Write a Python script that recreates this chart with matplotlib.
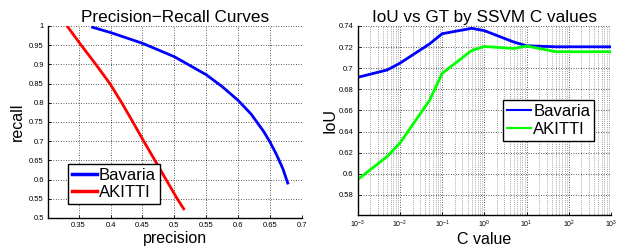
import matplotlib
matplotlib.use('Agg')
import matplotlib.pyplot as plt
import numpy as np

plt.rcParams['font.family'] = ['Liberation Sans', 'DejaVu Sans']

# precision-recall curves
bav_prec = [0.372, 0.40, 0.45, 0.50, 0.55, 0.575, 0.60, 0.62, 0.64, 0.65, 0.66, 0.67, 0.6775]
bav_rec = [0.9966, 0.983, 0.955, 0.92, 0.873, 0.842, 0.806, 0.771, 0.725, 0.697, 0.665, 0.628, 0.591]
ak_prec = [0.332, 0.343, 0.354, 0.377, 0.399, 0.4175, 0.435, 0.452, 0.4695, 0.487, 0.5045, 0.5145]
ak_rec = [1.0, 0.975, 0.95, 0.9, 0.85, 0.8, 0.75, 0.7, 0.65, 0.6, 0.55, 0.524]

# IoU vs C
c_vals = [0.001, 0.005, 0.01, 0.05, 0.1, 0.5, 1, 5, 10, 50, 100, 500, 1000]
bav_iou = [0.6914, 0.6984, 0.7048, 0.723, 0.7327, 0.7378, 0.7356, 0.7248, 0.7213,
           0.7203, 0.7203, 0.7203, 0.7203]
ak_iou = [0.5946, 0.6165, 0.6292, 0.6695, 0.6952, 0.7168, 0.7206, 0.7187, 0.721,
          0.7156, 0.7156, 0.7156, 0.7156]

fig = plt.figure(figsize=(6.19, 2.5), dpi=100)
ax1 = fig.add_axes([0.0775, 0.128, 0.4105, 0.768])
ax2 = fig.add_axes([0.578, 0.14, 0.409, 0.756])

grid_kw = dict(linestyle=(0, (1, 2)), color='#222222', lw=0.6)

def style(ax):
    for s in ['top', 'right']:
        ax.spines[s].set_visible(False)
    ax.spines['left'].set_linewidth(1.0)
    ax.spines['bottom'].set_linewidth(1.0)
    ax.tick_params(direction='in', length=2, width=0.6, labelsize=5.5, pad=3)
    ax.tick_params(which='minor', direction='in', length=1, width=0.4)

def legend(ax, anchor, lw):
    leg = ax.legend(loc='upper left', bbox_to_anchor=anchor, fontsize=12,
                    frameon=True, fancybox=False, edgecolor='k',
                    handlelength=1.45, handletextpad=0.12, borderpad=0.25,
                    labelspacing=0.15, borderaxespad=0, framealpha=1)
    leg.get_frame().set_linewidth(1.0)
    for h in leg.get_lines():
        h.set_linewidth(lw)

ax1.plot(bav_prec, bav_rec, color='#0000ff', lw=2, label='Bavaria')
ax1.plot(ak_prec, ak_rec, color='#ff0000', lw=2, label='AKITTI')
ax1.set_xlim(0.302, 0.7)
ax1.set_ylim(0.5, 1.0)
ax1.set_xticks(np.arange(0.35, 0.701, 0.05))
ax1.set_xticklabels(['0.35', '0.4', '0.45', '0.5', '0.55', '0.6', '0.65', '0.7'])
ax1.set_yticks(np.arange(0.5, 1.001, 0.05))
ax1.set_yticklabels(['0.5', '0.55', '0.6', '0.65', '0.7', '0.75', '0.8', '0.85', '0.9', '0.95', '1'])
ax1.grid(True, **grid_kw)
style(ax1)
ax1.set_title('Precision\u2212Recall Curves', fontsize=12.3, pad=3)
ax1.set_xlabel('precision', fontsize=11.5, labelpad=1)
ax1.set_ylabel('recall', fontsize=11.5, labelpad=3)
legend(ax1, (0.08, 0.283), 2.5)

ax2.semilogx(c_vals, bav_iou, color='#0000ff', lw=2, label='Bavaria')
ax2.semilogx(c_vals, ak_iou, color='#00ff00', lw=2, label='AKITTI')
ax2.set_xlim(1e-3, 1e3)
ax2.set_ylim(0.561, 0.74)
ax2.set_yticks(np.arange(0.58, 0.7401, 0.02))
ax2.set_yticklabels(['0.58', '0.6', '0.62', '0.64', '0.66', '0.68', '0.7', '0.72', '0.74'])
ax2.set_xticks([1e-3, 1e-2, 1e-1, 1e0, 1e1, 1e2, 1e3])
ax2.grid(True, which='major', **grid_kw)
ax2.grid(True, which='minor', axis='x', linestyle=(0, (1, 2)), color='#555555', lw=0.5)
style(ax2)
ax2.tick_params(axis='x', labelsize=5)
ax2.set_title('IoU vs GT by SSVM C values', fontsize=12.3, pad=3)
ax2.set_xlabel('C value', fontsize=11.5, labelpad=1)
ax2.set_ylabel('IoU', fontsize=11.5, labelpad=1)
legend(ax2, (0.573, 0.608), 1.5)

fig.savefig('out.png', dpi=100)
